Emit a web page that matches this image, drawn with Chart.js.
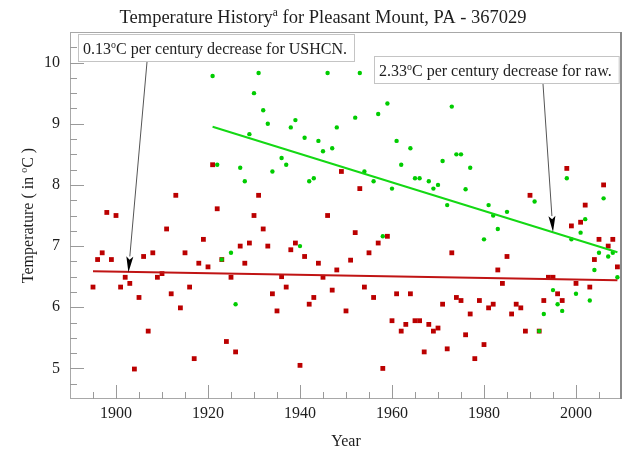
<!DOCTYPE html>
<html><head><meta charset="utf-8">
<script src="https://cdn.jsdelivr.net/npm/chart.js@4.4.1/dist/chart.umd.min.js"></script>
<style>html,body{margin:0;padding:0;background:#fff;}#wrap{position:relative;width:626px;height:453px;}</style>
</head><body><div id="wrap"><canvas id="c" width="626" height="453"></canvas></div>
<script>
// ---- data ----
const rawYears = [1895,1896,1897,1898,1899,1900,1901,1902,1903,1904,1905,1906,1907,1908,1909,1910,1911,1912,1913,1914,
1915,1916,1917,1918,1919,1920,1921,1922,1923,1924,1925,1926,1927,1928,1929,1930,1931,1932,1933,1934,
1935,1936,1937,1938,1939,1940,1941,1942,1943,1944,1945,1946,1947,1948,1949,1950,1951,1952,1953,1954,
1955,1956,1957,1958,1959,1960,1961,1962,1963,1964,1965,1966,1967,1968,1969,1970,1971,1972,1973,1974,
1975,1976,1977,1978,1979,1980,1981,1982,1983,1984,1985,1986,1987,1988,1989,1990,1991,1992,1993,1994,
1995,1996,1997,1998,1999,2000,2001,2002,2003,2004,2005,2006,2007,2008,2009];
const ushcnValues = [6.33,6.78,6.89,7.55,6.78,7.50,6.33,6.49,6.39,4.99,6.16,6.83,5.61,6.89,6.49,6.55,7.28,6.22,7.83,5.99,
6.89,6.33,5.16,6.72,7.11,6.66,8.33,7.61,6.78,5.44,6.49,5.27,7.00,6.72,7.05,7.50,7.83,7.28,7.00,6.22,
5.94,6.50,6.33,6.94,7.05,5.05,6.83,6.05,6.16,6.72,6.49,7.50,6.28,6.61,8.22,5.94,6.77,7.22,7.94,6.33,
6.89,6.16,7.05,5.00,7.16,5.78,6.22,5.61,5.72,6.22,5.78,5.78,5.27,5.72,5.61,5.66,6.05,5.32,6.89,6.16,
6.11,5.55,5.89,5.16,6.11,5.39,5.99,6.05,6.61,6.39,6.83,5.89,6.05,5.99,5.61,7.83,null,5.61,6.11,6.49,
6.49,6.22,6.11,8.27,7.33,6.39,7.39,7.67,6.33,6.78,7.11,8.00,7.00,7.11,6.66];
const rawStationYears = [1921,1922,1923,1925,1926,1927,1928,1929,1930,1931,1932,1933,1934,1936,1937,1938,1939,1940,
1941,1942,1943,1944,1945,1946,1947,1948,1952,1953,1954,1956,1957,1958,1959,1960,1961,1962,1964,1965,1966,
1968,1969,1970,1971,1972,1973,1974,1975,1976,1977,1980,1981,1982,1983,1985,1991,1992,1993,1995,1996,1997,
1998,1999,2000,2001,2002,2003,2004,2005,2006,2007,2008,2009];
const rawStationValues = [9.78,8.33,6.78,6.89,6.05,8.28,8.06,8.83,9.50,9.83,9.22,9.00,8.22,8.44,8.33,8.94,9.06,7.00,
8.77,8.06,8.11,8.72,8.55,9.83,8.60,8.94,9.10,9.83,8.22,8.06,9.16,7.16,9.33,7.94,8.72,8.33,8.60,8.11,8.11,
8.06,7.94,8.00,8.39,7.67,9.28,8.50,8.50,7.93,8.28,7.11,7.67,7.50,7.28,7.56,7.73,5.61,5.89,6.28,6.05,5.94,
8.11,7.11,6.22,7.22,7.44,6.11,6.61,6.89,7.78,6.83,6.89,6.49];
const trendUshcnYears = [1895, 2009];
const trendUshcnValues = [6.59, 6.44];
const trendRawYears = [1921, 2009];
const trendRawValues = [8.95, 6.90];
const xTickLabels = [1900, 1920, 1940, 1960, 1980, 2000];
const yTickLabels = [5, 6, 7, 8, 9, 10];
const titleParts = [['Temperature History', false], ['a', true], [' for Pleasant Mount, PA - 367029', false]];
const yTitleParts = [['Temperature ( in ', false], ['o', true], ['C )', false]];
const xTitle = 'Year';
const note1Parts = [['0.13', false], ['o', true], ['C per century decrease for USHCN.', false]];
const note2Parts = [['2.33', false], ['o', true], ['C per century decrease for raw.', false]];
const noteTipYears = [1902.7, 1995];
const noteTipValues = [6.57, 7.23];

// ---- drawing helpers ----
const FAM = '"Liberation Serif", "Times New Roman", serif';
const TXT = '#1e1e1e';
function richWidth(ctx, parts, size) {
  let w = 0;
  for (const [t, sup] of parts) { ctx.font = (sup ? size * 0.62 : size) + 'px ' + FAM; w += ctx.measureText(t).width; }
  return w;
}
function drawRich(ctx, parts, x, y, size) {
  let cx = x;
  ctx.textAlign = 'left'; ctx.textBaseline = 'alphabetic';
  for (const [t, sup] of parts) {
    ctx.font = (sup ? size * 0.62 : size) + 'px ' + FAM;
    ctx.fillText(t, cx, sup ? y - size * 0.36 : y);
    cx += ctx.measureText(t).width;
  }
}
function drawArrow(ctx, x0, y0, x1, y1) {
  const dx = x1 - x0, dy = y1 - y0, L = Math.hypot(dx, dy);
  const ux = dx / L, uy = dy / L, hl = 16, hw = 3.5;
  ctx.strokeStyle = '#555'; ctx.lineWidth = 1;
  ctx.beginPath(); ctx.moveTo(x0, y0); ctx.lineTo(x1 - ux * hl, y1 - uy * hl); ctx.stroke();
  ctx.fillStyle = '#000';
  ctx.beginPath();
  ctx.moveTo(x1, y1);
  ctx.lineTo(x1 - ux * hl - uy * hw, y1 - uy * hl + ux * hw);
  ctx.lineTo(x1 - ux * hl * 0.8, y1 - uy * hl * 0.8);
  ctx.lineTo(x1 - ux * hl + uy * hw, y1 - uy * hl - ux * hw);
  ctx.closePath(); ctx.fill();
}

const deco = {
  id: 'deco',
  afterDatasetsDraw(chart) {
    const {ctx, chartArea: a, scales: {x, y}} = chart;
    ctx.save();
    ctx.strokeStyle = '#a8a8a8'; ctx.lineWidth = 1;
    ctx.strokeRect(a.left + 0.5, a.top + 0.5, a.right - a.left - 1, a.bottom - a.top - 1);
    ctx.strokeStyle = '#8a8a8a'; ctx.lineWidth = 2;
    ctx.beginPath(); ctx.moveTo(a.right - 1, a.top); ctx.lineTo(a.right - 1, a.bottom); ctx.stroke();
    ctx.strokeStyle = '#9a9a9a'; ctx.lineWidth = 1;
    ctx.beginPath();
    for (let v = x.min + 5; v < x.max; v += 5) {
      const px = Math.round(x.getPixelForValue(v)) + 0.5;
      const len = xTickLabels.includes(v) ? 14 : 7;
      ctx.moveTo(px, a.bottom); ctx.lineTo(px, a.bottom - len);
    }
    for (let v = y.min + 0.25; v < y.max - 0.01; v += 0.25) {
      const py = Math.round(y.getPixelForValue(v)) + 0.5;
      const len = Math.abs(v - Math.round(v)) < 0.01 ? 14 : 7;
      ctx.moveTo(a.left, py); ctx.lineTo(a.left + len, py);
    }
    ctx.stroke();
    ctx.restore();
  },
  afterDraw(chart) {
    const {ctx, chartArea: a, scales: {x, y}} = chart;
    ctx.save();
    ctx.fillStyle = TXT;
    const tw = richWidth(ctx, titleParts, 18.5);
    drawRich(ctx, titleParts, 323 - tw / 2, 23, 18.5);
    ctx.save();
    ctx.translate(27, (a.top + a.bottom) / 2);
    ctx.rotate(-Math.PI / 2);
    const yw = richWidth(ctx, yTitleParts, 16);
    ctx.fillStyle = TXT;
    drawRich(ctx, yTitleParts, -yw / 2, 6, 16);
    ctx.restore();
    const boxes = [[note1Parts, 78, 34, 147], [note2Parts, 374, 56, 543]];
    boxes.forEach(([parts, bx, by, tailX], i) => {
      const w = richWidth(ctx, parts, 16) + 12, h = 27;
      ctx.fillStyle = '#fff'; ctx.fillRect(bx, by, w, h);
      ctx.strokeStyle = '#c4c4c4'; ctx.lineWidth = 1;
      ctx.strokeRect(bx + 0.5, by + 0.5, w, h);
      ctx.fillStyle = TXT;
      drawRich(ctx, parts, bx + 5, by + 20, 16);
      drawArrow(ctx, tailX, by + h + 1, x.getPixelForValue(noteTipYears[i]), y.getPixelForValue(noteTipValues[i]));
    });
    ctx.restore();
  }
};

const tickFont = {family: FAM, size: 16};
new Chart(document.getElementById('c'), {
  type: 'scatter',
  data: {
    datasets: [
      {label: 'USHCN trend', type: 'line', data: trendUshcnYears.map((v, i) => ({x: v, y: trendUshcnValues[i]})),
       borderColor: '#c01414', borderWidth: 2, pointRadius: 0, fill: false},
      {label: 'Raw trend', type: 'line', data: trendRawYears.map((v, i) => ({x: v, y: trendRawValues[i]})),
       borderColor: '#14d814', borderWidth: 2, pointRadius: 0, fill: false},
      {label: 'Raw', data: rawStationYears.map((v, i) => ({x: v, y: rawStationValues[i]})),
       pointStyle: 'circle', pointRadius: 2.2, backgroundColor: '#00cc00', borderWidth: 0},
      {label: 'USHCN', data: rawYears.map((v, i) => ({x: v, y: ushcnValues[i]})).filter(p => p.y !== null),
       pointStyle: 'rect', pointRadius: 3.4, backgroundColor: '#bb0000', borderWidth: 0}
    ]
  },
  options: {
    responsive: false, animation: false, devicePixelRatio: 1,
    layout: {padding: {left: 0, right: 4, top: 32, bottom: 0}},
    plugins: {legend: {display: false}, tooltip: {enabled: false}, title: {display: false}},
    scales: {
      x: {type: 'linear', min: 1890, max: 2010,
          afterBuildTicks: s => { s.ticks = xTickLabels.map(v => ({value: v})); },
          afterFit: s => { s.height = 54; },
          ticks: {font: tickFont, color: TXT, padding: 5, maxRotation: 0, autoSkip: false, callback: v => String(v)},
          grid: {display: false, drawTicks: false}, border: {display: false},
          title: {display: true, text: xTitle, font: tickFont, color: TXT, padding: {top: 0, bottom: 2}}},
      y: {type: 'linear', min: 4.5, max: 10.5,
          afterBuildTicks: s => { s.ticks = yTickLabels.map(v => ({value: v})); },
          afterFit: s => { s.width = 70; },
          ticks: {font: tickFont, color: TXT, padding: 10, autoSkip: false, callback: v => String(v)},
          grid: {display: false, drawTicks: false}, border: {display: false}}
    }
  },
  plugins: [deco]
});
</script></body></html>
